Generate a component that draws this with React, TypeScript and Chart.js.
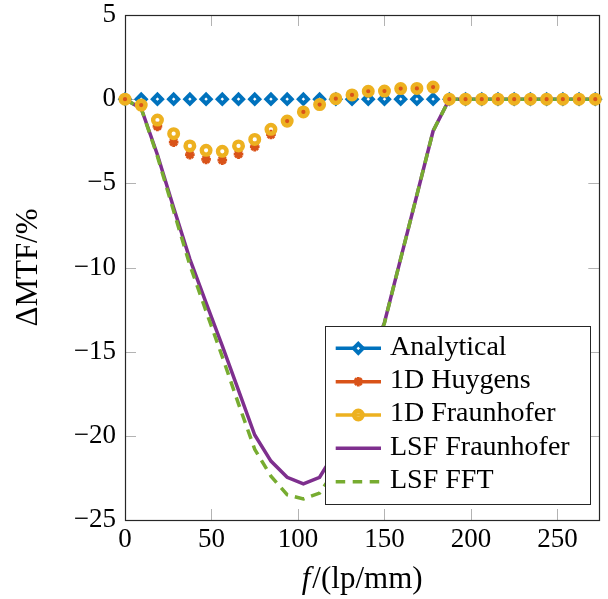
import React, { useEffect, useRef } from 'react';
import { Chart, registerables } from 'chart.js';

Chart.register(...registerables);

// ---- data ----
const freq = [0, 9.375, 18.75, 28.125, 37.5, 46.875, 56.25, 65.625, 75, 84.375, 93.75, 103.125, 112.5, 121.875, 131.25, 140.625, 150, 159.375, 168.75, 178.125, 187.5, 196.875, 206.25, 215.625, 225, 234.375, 243.75, 253.125, 262.5, 271.875];
const analytical = [0, 0, 0, 0, 0, 0, 0, 0, 0, 0, 0, 0, 0, 0, 0, 0, 0, 0, 0, 0, 0, 0, 0, 0, 0, 0, 0, 0, 0, 0];
const huygens = [0, -0.38, -1.62, -2.55, -3.3, -3.58, -3.62, -3.27, -2.82, -2.1, -1.38, -0.8, -0.34, 0.04, 0.27, 0.5, 0.5, 0.64, 0.64, 0.72, 0, 0, 0, 0, 0, 0, 0, 0, 0, 0];
const fraunhofer = [0, -0.35, -1.24, -2.05, -2.78, -3.04, -3.1, -2.78, -2.39, -1.79, -1.3, -0.76, -0.32, 0.03, 0.25, 0.47, 0.48, 0.63, 0.64, 0.72, 0, 0, 0, 0, 0, 0, 0, 0, 0, 0];
const lsfFraunhofer = [0, -0.55, -3.3, -6.45, -9.5, -12.1, -14.65, -17.3, -19.95, -21.5, -22.46, -22.86, -22.46, -20.9, -18.4, -15.8, -13.27, -9.47, -5.69, -1.89, 0, 0, 0, 0, 0, 0, 0, 0, 0, 0];
const lsfFFT = [0, -0.55, -3.4, -6.65, -9.85, -12.6, -15.3, -18.1, -20.8, -22.4, -23.5, -23.75, -23.4, -22.0, -19.0, -16.1, -13.3, -9.47, -5.69, -1.89, 0, 0, 0, 0, 0, 0, 0, 0, 0, 0];

const seriesNames = ['Analytical', '1D Huygens', '1D Fraunhofer', 'LSF Fraunhofer', 'LSF FFT'];
const xTicks = [0, 50, 100, 150, 200, 250];
const yTicks = [-25, -20, -15, -10, -5, 0, 5];
const xTitleItalic = 'f';
const xTitleRest = '/(lp/mm)';
const yTitle = 'ΔMTF/%';

const X_MIN = 0;
const X_MAX = 274.2;
const Y_MIN = -25;
const Y_MAX = 5;

const BLUE = '#0072BD';
const RED = '#D95319';
const YELLOW = '#EDB120';
const PURPLE = '#7E2F8E';
const GREEN = '#77AC30';
const AXIS = '#262626';
const SERIF = "'Liberation Serif', 'Times New Roman', serif";

const pts = (ys: number[]) => freq.map((x, i) => ({ x, y: ys[i] }));
const fmt = (v: number) => (v < 0 ? '\u2212' + Math.abs(v) : String(v));

function drawDiamond(ctx: CanvasRenderingContext2D, cx: number, cy: number) {
  const r = 4.5;
  ctx.save();
  ctx.beginPath();
  ctx.moveTo(cx, cy - r);
  ctx.lineTo(cx + r, cy);
  ctx.lineTo(cx, cy + r);
  ctx.lineTo(cx - r, cy);
  ctx.closePath();
  ctx.fillStyle = '#ffffff';
  ctx.fill();
  ctx.lineWidth = 4;
  ctx.strokeStyle = BLUE;
  ctx.stroke();
  ctx.restore();
}
function drawStar(ctx: CanvasRenderingContext2D, cx: number, cy: number) {
  const r = 4.8;
  const d = r * Math.SQRT1_2;
  ctx.save();
  ctx.beginPath();
  ctx.moveTo(cx - r, cy); ctx.lineTo(cx + r, cy);
  ctx.moveTo(cx, cy - r); ctx.lineTo(cx, cy + r);
  ctx.moveTo(cx - d, cy - d); ctx.lineTo(cx + d, cy + d);
  ctx.moveTo(cx - d, cy + d); ctx.lineTo(cx + d, cy - d);
  ctx.lineWidth = 2.8;
  ctx.strokeStyle = RED;
  ctx.stroke();
  ctx.restore();
}
function drawRing(ctx: CanvasRenderingContext2D, cx: number, cy: number) {
  ctx.save();
  ctx.beginPath();
  ctx.arc(cx, cy, 4.3, 0, Math.PI * 2);
  ctx.lineWidth = 4.4;
  ctx.strokeStyle = YELLOW;
  ctx.stroke();
  ctx.restore();
}

const framePlugin = {
  id: 'frame',
  beforeDatasetsDraw(chart: any) {
    const { ctx, chartArea, scales } = chart;
    const { left, right, top, bottom } = chartArea;
    const TL = 11;
    ctx.save();
    ctx.strokeStyle = '#b3b3b3';
    ctx.lineWidth = 1;
    ctx.beginPath();
    xTicks.forEach((v) => {
      const px = Math.round(scales.x.getPixelForValue(v)) + 0.5;
      ctx.moveTo(px, bottom); ctx.lineTo(px, bottom - TL);
      ctx.moveTo(px, top); ctx.lineTo(px, top + TL);
    });
    yTicks.forEach((v) => {
      const py = Math.round(scales.y.getPixelForValue(v)) + 0.5;
      ctx.moveTo(left, py); ctx.lineTo(left + TL, py);
      ctx.moveTo(right, py); ctx.lineTo(right - TL, py);
    });
    ctx.stroke();
    ctx.strokeStyle = AXIS;
    ctx.lineWidth = 1.2;
    ctx.strokeRect(Math.round(left) + 0.5, Math.round(top) + 0.5, Math.round(right - left), Math.round(bottom - top));
    ctx.restore();
  },
};

const overlayPlugin = {
  id: 'overlay',
  afterDraw(chart: any) {
    const { ctx, chartArea } = chart;
    const { left, right, top, bottom } = chartArea;
    ctx.save();
    ctx.fillStyle = '#000';
    // y title
    ctx.save();
    ctx.translate(29, (top + bottom) / 2);
    ctx.rotate(-Math.PI / 2);
    ctx.font = `31px ${SERIF}`;
    ctx.textAlign = 'center';
    ctx.textBaseline = 'middle';
    ctx.fillText(yTitle, 0, 0);
    ctx.restore();
    // x title
    ctx.textBaseline = 'middle';
    ctx.textAlign = 'left';
    ctx.font = `italic 31px ${SERIF}`;
    const w1 = ctx.measureText(xTitleItalic).width;
    ctx.font = `31px ${SERIF}`;
    const w2 = ctx.measureText(xTitleRest).width;
    const cx = (left + right) / 2;
    const sx = cx - (w1 + 2 + w2) / 2;
    ctx.font = `italic 31px ${SERIF}`;
    ctx.fillText(xTitleItalic, sx, 580);
    ctx.font = `31px ${SERIF}`;
    ctx.fillText(xTitleRest, sx + w1 + 2, 580);

    // legend
    const bx = 325, by = 326, bw = 265, bh = 178;
    ctx.fillStyle = '#ffffff';
    ctx.fillRect(bx, by, bw, bh);
    ctx.strokeStyle = AXIS;
    ctx.lineWidth = 1;
    ctx.strokeRect(bx + 0.5, by + 0.5, bw, bh);
    const rowY = [348.3, 381.7, 415, 448.3, 481.7];
    const lx0 = 335.7, lx1 = 381, mx = 358.3;
    const lineColors = [BLUE, RED, YELLOW, PURPLE, GREEN];
    seriesNames.forEach((name, i) => {
      const ry = rowY[i];
      ctx.save();
      ctx.beginPath();
      ctx.strokeStyle = lineColors[i];
      ctx.lineWidth = 3.5;
      if (i === 4) ctx.setLineDash([9.5, 7.5]);
      ctx.moveTo(lx0, ry);
      ctx.lineTo(lx1, ry);
      ctx.stroke();
      ctx.restore();
      if (i === 0) drawDiamond(ctx, mx, ry);
      if (i === 1) drawStar(ctx, mx, ry);
      if (i === 2) drawRing(ctx, mx, ry);
      ctx.fillStyle = '#000';
      ctx.font = `28px ${SERIF}`;
      ctx.textAlign = 'left';
      ctx.textBaseline = 'middle';
      ctx.fillText(name, 390, ry - 1);
    });
    ctx.restore();
  },
};

export default function App() {
  const ref = useRef<HTMLCanvasElement>(null);
  useEffect(() => {
    document.body.style.margin = '0';
    const canvas = ref.current!;
    const chart = new Chart(canvas, {
      type: 'line',
      data: {
        datasets: [
          {
            label: seriesNames[0], data: pts(analytical), showLine: false, order: 3, clip: false,
            borderColor: BLUE, backgroundColor: '#ffffff',
            pointStyle: 'rectRot', pointRadius: 4.5, pointBorderWidth: 4,
            pointBorderColor: BLUE, pointBackgroundColor: '#ffffff',
          },
          {
            label: seriesNames[1], data: pts(huygens), showLine: false, order: 2, clip: false,
            borderColor: RED, backgroundColor: RED,
            pointStyle: 'star', pointRadius: 4.8, pointBorderWidth: 2.8,
            pointBorderColor: RED, pointBackgroundColor: RED,
          },
          {
            label: seriesNames[2], data: pts(fraunhofer), showLine: false, order: 1, clip: false,
            borderColor: YELLOW, backgroundColor: 'rgba(0,0,0,0)',
            pointStyle: 'circle', pointRadius: 4.3, pointBorderWidth: 4.4,
            pointBorderColor: YELLOW, pointBackgroundColor: 'rgba(0,0,0,0)',
          },
          {
            label: seriesNames[3], data: pts(lsfFraunhofer), order: 5, clip: false,
            borderColor: PURPLE, borderWidth: 3.5, pointRadius: 0, tension: 0,
          },
          {
            label: seriesNames[4], data: pts(lsfFFT), order: 4, clip: false,
            borderColor: GREEN, borderWidth: 3.5, borderDash: [10, 7], pointRadius: 0, tension: 0,
          },
        ],
      } as any,
      options: {
        animation: false,
        responsive: false,
        devicePixelRatio: 1,
        events: [],
        layout: { padding: { left: 0, right: 4, top: 15, bottom: 0 } },
        plugins: { legend: { display: false }, tooltip: { enabled: false }, title: { display: false } },
        scales: {
          x: {
            type: 'linear', min: X_MIN, max: X_MAX,
            grid: { display: false, drawTicks: false },
            border: { display: false },
            afterBuildTicks: (s: any) => { s.ticks = xTicks.map((v) => ({ value: v })); },
            afterFit: (s: any) => {
              s.height = 79;
              s.paddingLeft = 0; s.paddingRight = 0; s.paddingTop = 0; s.paddingBottom = 0;
            },
            ticks: {
              autoSkip: false, maxRotation: 0, padding: 4, color: '#000',
              font: { family: SERIF, size: 27 },
              callback: (v: any) => fmt(Number(v)),
            },
          },
          y: {
            type: 'linear', min: Y_MIN, max: Y_MAX,
            grid: { display: false, drawTicks: false },
            border: { display: false },
            afterBuildTicks: (s: any) => { s.ticks = yTicks.map((v) => ({ value: v })); },
            afterFit: (s: any) => {
              s.width = 125;
              s.paddingLeft = 0; s.paddingRight = 0; s.paddingTop = 0; s.paddingBottom = 0;
            },
            ticks: {
              autoSkip: false, padding: 9, color: '#000',
              font: { family: SERIF, size: 27 },
              callback: (v: any) => fmt(Number(v)),
            },
          },
        },
      } as any,
      plugins: [framePlugin, overlayPlugin],
    });
    return () => chart.destroy();
  }, []);
  return (
    <div style={{ width: 608, height: 599 }}>
      <canvas ref={ref} width={608} height={599} style={{ display: 'block', width: 608, height: 599 }} />
    </div>
  );
}
